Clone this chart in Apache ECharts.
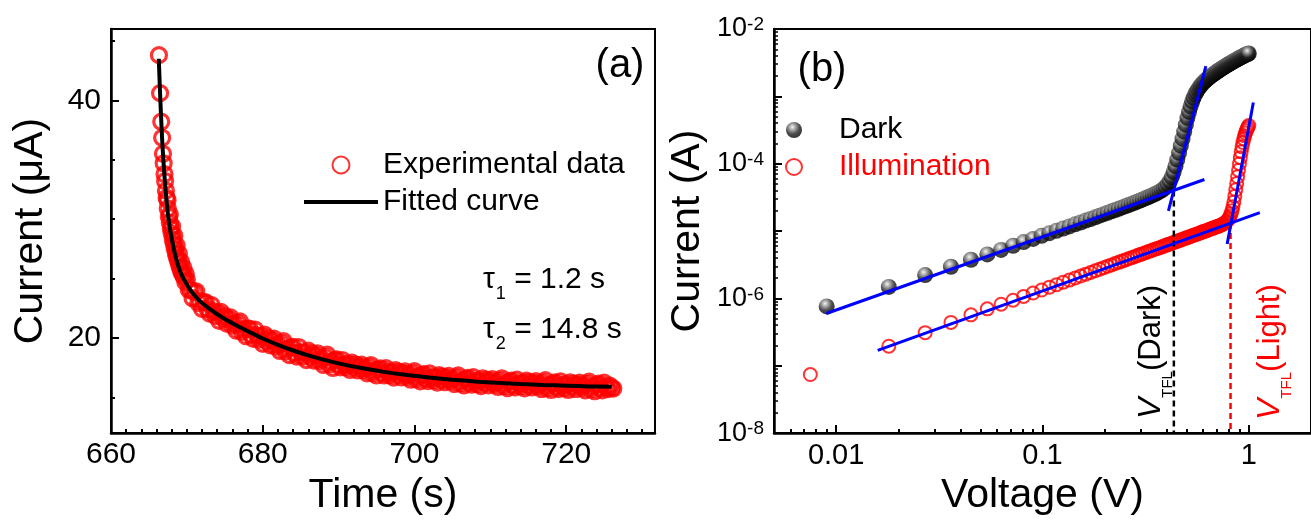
<!DOCTYPE html>
<html><head><meta charset="utf-8">
<script src="https://cdn.jsdelivr.net/npm/echarts@6/dist/echarts.min.js"></script>
<style>html,body{margin:0;padding:0;background:#fff}#c{width:1311px;height:521px}</style>
</head><body><div id="c"></div>
<script>
// ---------- Panel (a): photocurrent decay ----------
const timeExp = [
666.32,666.47,666.62,666.74,666.85,666.94,667.05,667.13,667.24,667.33,667.48,667.62,667.75,667.88,668.0,668.14,668.27,668.4,668.55,668.68,668.82,668.96,669.1,669.25,669.4,669.55,669.8,
667.45,667.75,668.05,668.35,668.65,668.95,669.25,669.55,669.85,
670,670.25,670.5,670.75, 671,671.25,671.5,671.75, 672,672.25,672.5,672.75, 673,673.25,673.5,673.75, 674,674.25,674.5,674.75,
675,675.25,675.5,675.75, 676,676.25,676.5,676.75, 677,677.25,677.5,677.75, 678,678.25,678.5,678.75, 679,679.25,679.5,679.75,
680,680.25,680.5,680.75, 681,681.25,681.5,681.75, 682,682.25,682.5,682.75, 683,683.25,683.5,683.75, 684,684.25,684.5,684.75,
685,685.25,685.5,685.75, 686,686.25,686.5,686.75, 687,687.25,687.5,687.75, 688,688.25,688.5,688.75, 689,689.25,689.5,689.75,
690,690.25,690.5,690.75, 691,691.25,691.5,691.75, 692,692.25,692.5,692.75, 693,693.25,693.5,693.75, 694,694.25,694.5,694.75,
695,695.25,695.5,695.75, 696,696.25,696.5,696.75, 697,697.25,697.5,697.75, 698,698.25,698.5,698.75, 699,699.25,699.5,699.75,
700,700.25,700.5,700.75, 701,701.25,701.5,701.75, 702,702.25,702.5,702.75, 703,703.25,703.5,703.75, 704,704.25,704.5,704.75,
705,705.25,705.5,705.75, 706,706.25,706.5,706.75, 707,707.25,707.5,707.75, 708,708.25,708.5,708.75, 709,709.25,709.5,709.75,
710,710.25,710.5,710.75, 711,711.25,711.5,711.75, 712,712.25,712.5,712.75, 713,713.25,713.5,713.75, 714,714.25,714.5,714.75,
715,715.25,715.5,715.75, 716,716.25,716.5,716.75, 717,717.25,717.5,717.75, 718,718.25,718.5,718.75, 719,719.25,719.5,719.75,
720,720.25,720.5,720.75, 721,721.25,721.5,721.75, 722,722.25,722.5,722.75, 723,723.25,723.5,723.75, 724,724.25,724.5,724.75,
725,725.25,725.5,725.75, 726.0,726.2];
const currentExp = [
43.8,40.6,38.2,36.85,35.5,34.7,33.8,33.2,32.4,31.8,30.9,30.2,29.7,29.2,28.8,28.3,27.9,27.5,27.1,26.8,26.5,26.2,25.9,25.6,25.4,25.2,24.7,
31.6,30.4,29.4,28.6,27.8,27.1,26.4,25.9,25.4,
24.9,24.05,24.05,23.35, 23.85,23.92,22.95,23.1, 22.45,23.02,23.0,22.42, 22.05,22.78,22.27,21.86, 22.15,21.45,22.2,21.65,
21.85,21.21,21.57,21.73, 21.05,21.21,20.62,21.23, 21.4,20.52,20.74,20.16, 20.78,20.8,20.26,19.93, 20.71,20.23,19.86,20.18,
19.51,20.29,19.77,20.0, 19.38,19.76,19.95,19.28, 19.47,18.91,19.55,19.74, 18.88,19.12,18.56,19.2, 19.25,18.75,18.44,19.24,
18.79,18.44,18.79,18.14, 18.94,18.45,18.7,18.1, 18.51,18.71,18.07,18.27, 17.73,18.39,18.6,17.76, 18.02,17.48,18.14,18.2,
17.77,17.53,18.15,17.81, 17.53,17.8,17.31,17.93, 17.55,17.77,17.28,17.6, 17.77,17.29,17.46,17.03, 17.56,17.73,17.05,17.27,
16.85,17.37,17.45,17.07, 16.85,17.47,17.15,16.87, 17.15,16.67,17.3,16.93, 17.16,16.69,17.02,17.2, 16.73,16.91,16.49,17.02,
17.21,16.54,16.77,16.35, 16.88,16.96,16.6,16.38, 17.02,16.7,16.43,16.71, 16.25,16.88,16.52,16.75, 16.29,16.62,16.81,16.35,
16.54,16.12,16.66,16.85, 16.19,16.42,16.01,16.55, 16.64,16.28,16.07,16.71, 16.4,16.13,16.42,15.96, 16.6,16.24,16.48,16.02,
16.36,16.55,16.1,16.29, 15.88,16.42,16.61,15.95, 16.19,15.78,16.33,16.42, 16.06,15.85,16.5,16.19, 15.93,16.22,15.77,16.41,
16.05,16.3,15.84,16.18, 16.38,15.92,16.11,15.71, 16.25,16.45,15.79,16.04, 15.63,16.17,16.27,15.91, 15.7,16.35,16.05,15.79,
16.09,15.63,16.28,15.92, 16.17,15.71,16.06,16.25, 15.8,16.0,15.59,16.14, 16.33,15.68,15.93,15.52, 16.07,16.16,15.81,15.6,
16.25,15.95,15.7,15.99, 15.8,15.75];
const timeFit = [666.3,666.45,666.6,666.75,666.9,667.1,667.3,667.55,667.8,668.1,668.4,668.8,669.2,669.6,670.0,670.5,671.0,671.5,672.0,673.0,674.0,675.0,676.0,677.0,678.0,680,682,684,686,688,690,693,696,699,702,705,708,711,714,717,720,723,726];
const currentFit = [43.5,40.9,38.6,36.6,35.0,33.2,31.7,30.2,29.1,28.05,27.15,26.2,25.5,24.95,24.5,24.0,23.6,23.25,22.95,22.45,22.0,21.6,21.25,20.9,20.58,19.96,19.42,18.95,18.54,18.18,17.87,17.47,17.15,16.88,16.67,16.49,16.35,16.23,16.13,16.05,15.99,15.93,15.89];
const timeMajorTicks = [660,680,700,720];
const timeMinorTicks = [662,664,666,668,670,672,674,676,678,682,684,686,688,690,692,694,696,698,702,704,706,708,710,712,714,716,718,722,724,726,728,730];
const currentAMajorTicks = [20,40];
const currentAMinorTicks = [15,25,30,35,45];

// ---------- Panel (b): I-V curves ----------
const voltage = [0.009,0.018,0.027,0.036,0.045,0.054,0.063,0.072,0.081,0.090,0.099,0.108,0.117,0.126,0.135,0.144,0.153,0.162,0.171,0.180,0.189,0.198,0.207,0.216,0.225,0.234,0.243,0.252,0.261,0.270,0.279,0.288,0.297,0.306,0.315,0.324,0.333,0.342,0.351,0.360,0.369,0.378,0.387,0.396,0.405,0.414,0.423,0.432,0.441,0.450,0.459,0.468,0.477,0.486,0.495,0.504,0.513,0.522,0.531,0.540,0.549,0.558,0.567,0.576,0.585,0.594,0.603,0.612,0.621,0.630,0.639,0.648,0.657,0.666,0.675,0.684,0.693,0.702,0.711,0.720,0.729,0.738,0.747,0.756,0.765,0.774,0.783,0.792,0.801,0.810,0.819,0.828,0.837,0.846,0.855,0.864,0.873,0.882,0.891,0.900,0.909,0.918,0.927,0.936,0.945,0.954,0.963,0.972,0.981,0.990,0.999];
const darkCurrent = [7.6e-7,1.48e-6,2.22e-6,2.95e-6,3.75e-6,4.5e-6,5.25e-6,6.05e-6,6.85e-6,7.65e-6,
8.5e-6,9.3e-6,1.01e-5,1.09e-5,1.17e-5,1.26e-5,1.34e-5,1.43e-5,1.51e-5,1.60e-5,
1.69e-5,1.78e-5,1.87e-5,1.96e-5,2.05e-5,2.14e-5,2.24e-5,2.33e-5,2.43e-5,2.53e-5,
2.63e-5,2.73e-5,2.84e-5,2.95e-5,3.06e-5,3.17e-5,3.29e-5,3.41e-5,3.54e-5,3.68e-5,
3.84e-5,4.02e-5,4.25e-5,4.55e-5,4.95e-5,5.5e-5,6.3e-5,7.5e-5,9.2e-5,1.15e-4,
1.45e-4,1.85e-4,2.35e-4,3.0e-4,3.8e-4,4.8e-4,5.9e-4,7.1e-4,8.4e-4,9.6e-4,
1.07e-3,1.17e-3,1.27e-3,1.36e-3,1.45e-3,1.53e-3,1.61e-3,1.68e-3,1.75e-3,1.82e-3,
1.89e-3,1.96e-3,2.02e-3,2.08e-3,2.14e-3,2.2e-3,2.27e-3,2.33e-3,2.39e-3,2.46e-3,
2.52e-3,2.58e-3,2.65e-3,2.71e-3,2.77e-3,2.83e-3,2.9e-3,2.96e-3,3.02e-3,3.08e-3,
3.14e-3,3.2e-3,3.27e-3,3.33e-3,3.39e-3,3.45e-3,3.52e-3,3.58e-3,3.64e-3,3.7e-3,
3.76e-3,3.82e-3,3.88e-3,3.94e-3,4.0e-3,4.06e-3,4.12e-3,4.18e-3,4.23e-3,4.28e-3,4.33e-3];
const illumFirstVoltage = 0.0075;
const illumCurrent = [7.4e-8,1.95e-7,3.1e-7,4.4e-7,5.7e-7,7.0e-7,8.2e-7,9.4e-7,1.07e-6,1.2e-6,
1.33e-6,1.47e-6,1.6e-6,1.74e-6,1.87e-6,2.01e-6,2.15e-6,2.29e-6,2.43e-6,2.57e-6,
2.71e-6,2.86e-6,3.0e-6,3.14e-6,3.29e-6,3.43e-6,3.58e-6,3.73e-6,3.87e-6,4.02e-6,
4.17e-6,4.32e-6,4.47e-6,4.62e-6,4.77e-6,4.92e-6,5.07e-6,5.22e-6,5.37e-6,5.52e-6,
5.67e-6,5.82e-6,5.98e-6,6.13e-6,6.29e-6,6.44e-6,6.6e-6,6.75e-6,6.91e-6,7.07e-6,
7.22e-6,7.38e-6,7.54e-6,7.7e-6,7.86e-6,8.02e-6,8.18e-6,8.34e-6,8.5e-6,8.66e-6,
8.82e-6,8.99e-6,9.15e-6,9.31e-6,9.48e-6,9.64e-6,9.81e-6,9.97e-6,1.014e-5,1.03e-5,
1.047e-5,1.064e-5,1.08e-5,1.097e-5,1.114e-5,1.131e-5,1.148e-5,1.165e-5,1.182e-5,1.2e-5,
1.22e-5,1.24e-5,1.26e-5,1.29e-5,1.32e-5,1.36e-5,1.41e-5,1.47e-5,1.55e-5,1.66e-5,
1.8e-5,2.0e-5,2.3e-5,2.7e-5,3.3e-5,4.1e-5,5.1e-5,6.4e-5,8.0e-5,1.0e-4,
1.23e-4,1.5e-4,1.78e-4,2.06e-4,2.34e-4,2.6e-4,2.85e-4,3.08e-4,3.3e-4,3.5e-4,3.7e-4];
// straight-line fits (endpoints, V in volts, I in amps)
const darkFitLow   = [[0.00897,5.96e-7],[0.609,5.83e-5]];
const darkFitHigh  = [[0.4076,1.99e-5],[0.619,2.81e-3]];
const illumFitLow  = [[0.0159,1.69e-7],[1.13,1.88e-5]];
const illumFitHigh = [[0.785,6.44e-6],[1.051,8.13e-4]];
const vtflDark  = [[0.433,4.0e-5],[0.433,1e-8]];
const vtflLight = [[0.815,1.32e-5],[0.815,1e-8]];
const voltageLabelTicks = [0.01,0.1,1];
const voltageMinorTicks = [0.006,0.007,0.008,0.009,0.02,0.03,0.04,0.05,0.06,0.07,0.08,0.09,0.2,0.3,0.4,0.5,0.6,0.7,0.8,0.9];
const currentBDecades = [1e-8,1e-7,1e-6,1e-5,1e-4,1e-3,1e-2];
const currentBLabelTicks = [1e-8,1e-6,1e-4,1e-2];
const minorMultipliers = [2,3,4,5,6,7,8,9];

const currentBMinorTicks = [];
currentBDecades.slice(0, -1).forEach(d => minorMultipliers.forEach(m => currentBMinorTicks.push(d * m)));

const FONT = 'Liberation Sans, Arial, sans-serif';
const BLACK = '#000000', RED = '#ff0000', BLUE = '#0000ff';

function axisCommon() {
  return { splitLine: {show: false}, axisPointer: {show: false} };
}

const chart = echarts.init(document.getElementById('c'));
const option = {
  animation: false,
  backgroundColor: '#ffffff',
  textStyle: {fontFamily: FONT},
  grid: [
    {left: 111, top: 29, width: 544, height: 407, show: true, borderColor: BLACK, borderWidth: 2, backgroundColor: 'transparent'},
    {left: 774, top: 29, width: 548, height: 407.5, show: true, borderColor: BLACK, borderWidth: 2, backgroundColor: 'transparent'}
  ],
  legend: [
    {
      data: [
        {name: 'Experimental data', itemStyle: {borderWidth: 2}},
        {name: 'Fitted curve', itemStyle: {color: 'rgba(0,0,0,0)', borderColor: 'rgba(0,0,0,0)', borderWidth: 0, opacity: 0},
         lineStyle: {color: BLACK, width: 4}}
      ],
      orient: 'vertical', left: 297, top: 145, itemWidth: 74, itemHeight: 17, itemGap: 7,
      textStyle: {fontSize: 30, lineHeight: 30, fontFamily: FONT, color: BLACK},
      selectedMode: false
    },
    {
      data: [{name: 'Dark', textStyle: {color: BLACK}}, {name: 'Illumination', textStyle: {color: RED}}],
      orient: 'vertical', left: 780, top: 110, itemWidth: 80, itemHeight: 16, itemGap: 7,
      textStyle: {fontSize: 30, lineHeight: 30, fontFamily: FONT},
      selectedMode: false
    }
  ],
  xAxis: [
    Object.assign(axisCommon(), {
      type: 'value', gridIndex: 0, position: 'bottom', min: 660, max: 731.7,
      name: 'Time (s)', nameLocation: 'middle', nameGap: 36,
      nameTextStyle: {fontSize: 41, fontFamily: FONT, color: BLACK},
      axisLine: {show: true, lineStyle: {color: BLACK, width: 2.5}},
      axisTick: {show: true, inside: true, length: 8, customValues: timeMajorTicks, lineStyle: {color: BLACK, width: 2}},
      axisLabel: {show: true, customValues: timeMajorTicks, fontSize: 30, margin: 7, color: BLACK, fontFamily: FONT}
    }),
    Object.assign(axisCommon(), {
      type: 'value', gridIndex: 0, position: 'bottom', min: 660, max: 731.7,
      axisLine: {show: false},
      axisTick: {show: true, inside: true, length: 4, customValues: timeMinorTicks, lineStyle: {color: BLACK, width: 2}},
      axisLabel: {show: false}
    }),
    Object.assign(axisCommon(), {
      type: 'log', logBase: 10, gridIndex: 1, position: 'bottom', min: 0.005, max: 2,
      name: 'Voltage (V)', nameLocation: 'middle', nameGap: 40,
      nameTextStyle: {fontSize: 41, fontFamily: FONT, color: BLACK},
      axisLine: {show: true, lineStyle: {color: BLACK, width: 2.5}},
      axisTick: {show: true, inside: true, length: 8, customValues: voltageLabelTicks, lineStyle: {color: BLACK, width: 2}},
      axisLabel: {show: true, customValues: voltageLabelTicks, fontSize: 29, margin: 8, color: BLACK, fontFamily: FONT,
        formatter: v => String(+v.toPrecision(3))}
    }),
    Object.assign(axisCommon(), {
      type: 'log', logBase: 10, gridIndex: 1, position: 'bottom', min: 0.005, max: 2,
      axisLine: {show: false},
      axisTick: {show: true, inside: true, length: 4, customValues: voltageMinorTicks, lineStyle: {color: BLACK, width: 2}},
      axisLabel: {show: false}
    })
  ],
  yAxis: [
    Object.assign(axisCommon(), {
      type: 'value', gridIndex: 0, position: 'left', min: 12, max: 46,
      name: 'Current (μA)', nameLocation: 'middle', nameGap: 60,
      nameTextStyle: {fontSize: 41, fontFamily: FONT, color: BLACK},
      axisLine: {show: true, lineStyle: {color: BLACK, width: 2.5}},
      axisTick: {show: true, inside: true, length: 8, customValues: currentAMajorTicks, lineStyle: {color: BLACK, width: 2}},
      axisLabel: {show: true, customValues: currentAMajorTicks, fontSize: 30, margin: 10, color: BLACK, fontFamily: FONT}
    }),
    Object.assign(axisCommon(), {
      type: 'value', gridIndex: 0, position: 'left', min: 12, max: 46,
      axisLine: {show: false},
      axisTick: {show: true, inside: true, length: 4, customValues: currentAMinorTicks, lineStyle: {color: BLACK, width: 2}},
      axisLabel: {show: false}
    }),
    Object.assign(axisCommon(), {
      type: 'log', logBase: 10, gridIndex: 1, position: 'left', min: 1e-8, max: 1e-2,
      name: 'Current (A)', nameLocation: 'middle', nameGap: 66,
      nameTextStyle: {fontSize: 41, fontFamily: FONT, color: BLACK},
      axisLine: {show: true, lineStyle: {color: BLACK, width: 2.5}},
      axisTick: {show: true, inside: true, length: 8, customValues: currentBDecades, lineStyle: {color: BLACK, width: 2}},
      axisLabel: {show: true, customValues: currentBLabelTicks, margin: 10, color: BLACK,
        formatter: v => '{b|10}{s|' + Math.round(Math.log10(v)) + '}',
        rich: {
          b: {fontSize: 27, fontFamily: FONT, color: BLACK, lineHeight: 27, padding: [8, 0, 0, 0], verticalAlign: 'bottom'},
          s: {fontSize: 19, fontFamily: FONT, color: BLACK, lineHeight: 19, verticalAlign: 'top'}
        }}
    }),
    Object.assign(axisCommon(), {
      type: 'log', logBase: 10, gridIndex: 1, position: 'left', min: 1e-8, max: 1e-2,
      axisLine: {show: false},
      axisTick: {show: true, inside: true, length: 4, customValues: currentBMinorTicks, lineStyle: {color: BLACK, width: 1.5}},
      axisLabel: {show: false}
    })
  ],
  series: [
    {
      name: 'Experimental data', type: 'scatter', xAxisIndex: 0, yAxisIndex: 0,
      data: timeExp.map((t, i) => [t, currentExp[i]]),
      symbol: 'circle', symbolSize: 15,
      itemStyle: {color: 'rgba(255,255,255,0)', borderColor: RED, borderWidth: 3.2},
      z: 2
    },
    {
      name: 'Fitted curve', type: 'line', xAxisIndex: 0, yAxisIndex: 0,
      data: timeFit.map((t, i) => [t, currentFit[i]]),
      symbol: 'none', showSymbol: false, smooth: 0.3,
      lineStyle: {color: BLACK, width: 4}, itemStyle: {color: BLACK},
      z: 3
    },
    {
      name: 'Dark', type: 'scatter', xAxisIndex: 2, yAxisIndex: 2,
      data: voltage.map((v, i) => [v, darkCurrent[i]]),
      symbol: 'circle', symbolSize: 16,
      itemStyle: {color: {type: 'radial', x: 0.4, y: 0.32, r: 0.72, colorStops: [
        {offset: 0, color: '#f2f2f2'}, {offset: 0.22, color: '#a0a0a0'}, {offset: 0.6, color: '#202020'}, {offset: 1, color: '#000000'}]}},
      z: 2
    },
    {
      name: 'Illumination', type: 'scatter', xAxisIndex: 2, yAxisIndex: 2,
      data: voltage.map((v, i) => [i === 0 ? illumFirstVoltage : v, illumCurrent[i]]),
      symbol: 'circle', symbolSize: 13,
      itemStyle: {color: 'rgba(255,255,255,0)', borderColor: RED, borderWidth: 2},
      z: 2
    },
    {type: 'line', xAxisIndex: 2, yAxisIndex: 2, data: darkFitLow, symbol: 'none', lineStyle: {color: BLUE, width: 3}, z: 4},
    {type: 'line', xAxisIndex: 2, yAxisIndex: 2, data: darkFitHigh, symbol: 'none', lineStyle: {color: BLUE, width: 3}, z: 4},
    {type: 'line', xAxisIndex: 2, yAxisIndex: 2, data: illumFitLow, symbol: 'none', lineStyle: {color: BLUE, width: 3}, z: 4},
    {type: 'line', xAxisIndex: 2, yAxisIndex: 2, data: illumFitHigh, symbol: 'none', lineStyle: {color: BLUE, width: 3}, z: 4},
    {type: 'line', xAxisIndex: 2, yAxisIndex: 2, data: vtflDark, symbol: 'none', lineStyle: {color: BLACK, width: 2.5, type: [6, 4]}, z: 3},
    {type: 'line', xAxisIndex: 2, yAxisIndex: 2, data: vtflLight, symbol: 'none', lineStyle: {color: RED, width: 2.5, type: [6, 4]}, z: 3}
  ],
  graphic: [
    {type: 'text', x: 620, y: 66, z: 10, style: {text: '(a)', fontSize: 40, fontFamily: FONT, fill: BLACK,
      align: 'center', verticalAlign: 'middle', textAlign: 'center', textVerticalAlign: 'middle'}},
    {type: 'text', x: 822, y: 70, z: 10, style: {text: '(b)', fontSize: 40, fontFamily: FONT, fill: BLACK,
      align: 'center', verticalAlign: 'middle', textAlign: 'center', textVerticalAlign: 'middle'}},
    {type: 'text', x: 483, y: 280, z: 10, style: {text: '{t|τ}{s|1}{t| = 1.2 s}', fill: BLACK,
      align: 'left', verticalAlign: 'middle', textAlign: 'left', textVerticalAlign: 'middle',
      rich: {t: {fontSize: 30, fontFamily: FONT, lineHeight: 30, verticalAlign: 'top'},
             s: {fontSize: 18, fontFamily: FONT, lineHeight: 18, padding: [20, 0, 0, 1], verticalAlign: 'top'}}}},
    {type: 'text', x: 483, y: 330, z: 10, style: {text: '{t|τ}{s|2}{t| = 14.8 s}', fill: BLACK,
      align: 'left', verticalAlign: 'middle', textAlign: 'left', textVerticalAlign: 'middle',
      rich: {t: {fontSize: 30, fontFamily: FONT, lineHeight: 30, verticalAlign: 'top'},
             s: {fontSize: 18, fontFamily: FONT, lineHeight: 18, padding: [20, 0, 0, 1], verticalAlign: 'top'}}}},
    {type: 'text', x: 1151, y: 352, rotation: Math.PI / 2, z: 10, style: {text: '{v|V}{s|TFL}{n|(Dark)}', fill: BLACK,
      align: 'center', verticalAlign: 'middle', textAlign: 'center', textVerticalAlign: 'middle',
      rich: {v: {fontSize: 32, fontFamily: FONT, fontStyle: 'italic', lineHeight: 31, verticalAlign: 'top'},
             s: {fontSize: 15, fontFamily: FONT, lineHeight: 15, padding: [25, 0, 0, 0], verticalAlign: 'top'},
             n: {fontSize: 31, fontFamily: FONT, lineHeight: 31, verticalAlign: 'top'}}}},
    {type: 'text', x: 1270, y: 352, rotation: Math.PI / 2, z: 10, style: {text: '{v|V}{s|TFL}{n|(Light)}', fill: RED,
      align: 'center', verticalAlign: 'middle', textAlign: 'center', textVerticalAlign: 'middle',
      rich: {v: {fontSize: 32, fontFamily: FONT, fontStyle: 'italic', lineHeight: 31, verticalAlign: 'top', color: RED},
             s: {fontSize: 15, fontFamily: FONT, lineHeight: 15, padding: [25, 0, 0, 0], verticalAlign: 'top', color: RED},
             n: {fontSize: 31, fontFamily: FONT, lineHeight: 31, verticalAlign: 'top', color: RED}}}}
  ]
};
chart.setOption(option);
</script></body></html>
